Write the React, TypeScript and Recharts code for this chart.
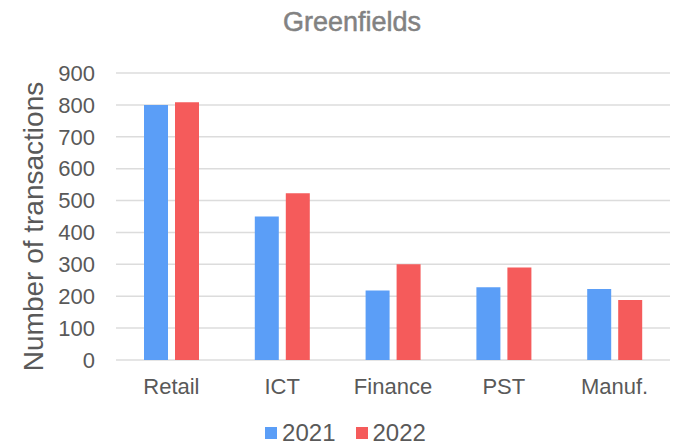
import { BarChart, Bar, XAxis, YAxis, CartesianGrid, Legend } from "recharts";

const sectors = ["Retail", "ICT", "Finance", "PST", "Manuf."];
const tx2021 = [800, 450, 218, 228, 223];
const tx2022 = [808, 523, 300, 290, 188];
const yTicks = [0, 100, 200, 300, 400, 500, 600, 700, 800, 900];

const BLUE = "#5b9ef7";
const RED = "#f55b5b";
const FONT = "'Liberation Sans', Arial, sans-serif";

const data = sectors.map((s, i) => ({ sector: s, "2021": tx2021[i], "2022": tx2022[i] }));

// legend row: small square swatch + year, centred under the plot
function LegendRow({ payload }: any) {
  return (
    <div style={{ display: "flex", justifyContent: "center", gap: 20, paddingLeft: 14 }}>
      {(payload || []).map((p: any) => (
        <div key={p.value} style={{ display: "flex", alignItems: "center", gap: 5, height: 26 }}>
          <span style={{ width: 12, height: 12, background: p.color, display: "inline-block" }} />
          <span style={{ fontFamily: FONT, fontSize: 24, lineHeight: "26px", color: "#595959" }}>{p.value}</span>
        </div>
      ))}
    </div>
  );
}

export default function App() {
  return (
    <div style={{ position: "relative", width: 677, height: 446, background: "#fff" }}>
      <style>{"body{margin:0}"}</style>
      <div
        style={{
          position: "absolute",
          top: 7,
          left: 252,
          width: 200,
          textAlign: "center",
          fontFamily: FONT,
          fontSize: 27,
          color: "#828282",
          WebkitTextStroke: "0.5px #828282",
        }}
      >
        Greenfields
      </div>
      <BarChart
        width={677}
        height={446}
        data={data}
        margin={{ top: 47, right: 7, left: 0, bottom: 36 }}
        barSize={24}
        barGap={7}
      >
        <CartesianGrid vertical={false} stroke="#dcdcdc" strokeWidth={1.5} />
        <XAxis
          dataKey="sector"
          height={50}
          tickLine={false}
          axisLine={false}
          tickSize={0}
          tickMargin={18}
          tick={{ fill: "#595959", fontSize: 22, fontFamily: FONT }}
        />
        <YAxis
          width={116}
          domain={[0, 900]}
          ticks={yTicks}
          interval={0}
          tickLine={false}
          axisLine={false}
          tickSize={0}
          tickMargin={21}
          tick={{ fill: "#595959", fontSize: 22, fontFamily: FONT }}
          label={{
            value: "Number of transactions",
            angle: -90,
            position: "insideLeft",
            offset: 33,
            dy: 10,
            style: { textAnchor: "middle" },
            fill: "#595959",
            fontSize: 28,
            fontFamily: FONT,
          }}
        />
        <Legend
          verticalAlign="top"
          content={<LegendRow />}
          wrapperStyle={{ top: 420, left: 0, width: 677 }}
        />
        <Bar dataKey="2021" fill={BLUE} isAnimationActive={false} />
        <Bar dataKey="2022" fill={RED} isAnimationActive={false} />
      </BarChart>
    </div>
  );
}
